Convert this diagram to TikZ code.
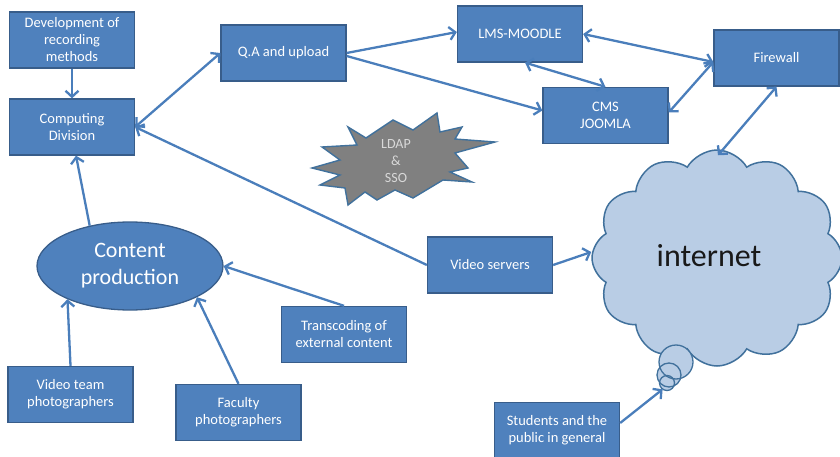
\documentclass[tikz,border=0pt]{standalone}
\usepackage{fontspec}
\setmainfont{Carlito}
\usetikzlibrary{arrows.meta,shapes.geometric,shapes.symbols}
\definecolor{boxfill}{HTML}{4F81BD}
\definecolor{boxline}{HTML}{385D8A}
\definecolor{arrowcol}{HTML}{4A7EBB}
\definecolor{cloudfill}{HTML}{B9CDE5}
\definecolor{cloudline}{HTML}{41719C}
\definecolor{stargray}{HTML}{808080}
\definecolor{startext}{HTML}{D9D9D9}
\tikzset{
  boxnode/.style={draw=boxline, fill=boxfill, line width=1.3pt, text=white,
    minimum width=125pt, minimum height=56pt, align=center, inner sep=2pt,
    font=\fontsize{14.5}{17}\selectfont},
  conn/.style={draw=arrowcol, line width=2.3pt, -{Straight Barb[length=6pt,width=13pt]}},
  biconn/.style={draw=arrowcol, line width=2.3pt, {Straight Barb[length=6pt,width=13pt]}-{Straight Barb[length=6pt,width=13pt]}},
  bubblefill/.style={circle, fill=cloudfill, inner sep=0pt},
  bubbleline/.style={draw=cloudline, line width=1.3pt},
}
\begin{document}
\begin{tikzpicture}[x=1pt,y=-1pt]
\useasboundingbox (0,0) rectangle (840,457);

% cloud
\node[cloud, cloud puffs=12, cloud puff arc=120, draw=cloudline, fill=cloudfill,
      line width=1.5pt, minimum width=250pt, minimum height=216pt] (cloud) at (717,258) {};
\node[font=\fontsize{32}{36}\selectfont, text=black!90] (inet) at (709,256) {internet};
\node[bubblefill, minimum size=34pt] (b1) at (676,362) {};
\node[bubblefill, minimum size=24pt] (b2) at (669,375) {};
\node[bubblefill, minimum size=15pt] (b3) at (667,383) {};
\draw[bubbleline] (b1.center) circle[radius=17pt];
\draw[bubbleline] (b2.center) circle[radius=12pt];
\draw[bubbleline] (b3.center) circle[radius=7.5pt];

% star
\draw[draw=cloudline, fill=stargray, line width=1.4pt, line join=miter]
  (312,168) -- (340,160) -- (322,147) -- (357,145) -- (348,127) -- (366,138)
  -- (393,120) -- (413,130) -- (437,113) -- (440,132) -- (462,127) -- (455,139)
  -- (495,142) -- (455,153) -- (468,168) -- (450,172) -- (472,182) -- (443,180)
  -- (413,198) -- (395,190) -- (377,200) -- (365,192) -- (348,205) -- (345,188)
  -- (320,185) -- (340,175) -- cycle;
\node[text=startext, align=center, font=\fontsize{14}{17}\selectfont] (ldap) at (396,161) {LDAP\\\&\\SSO};

% boxes
\node[boxnode] (dev) at (72,40) {Development of\\recording\\methods};
\node[boxnode] (comp) at (72,127) {Computing\\Division};
\node[boxnode] (qa) at (283.5,53) {Q.A and upload};
\node[boxnode] (lms) at (520,34) {LMS-MOODLE};
\node[boxnode] (cms) at (605.5,115.5) {CMS\\JOOMLA};
\node[boxnode] (fw) at (776.5,58) {Firewall};
\node[boxnode] (vs) at (490,265) {Video servers};
\node[boxnode] (trans) at (344,334.5) {Transcoding of\\external content};
\node[boxnode] (vt) at (70.5,394.5) {Video team\\photographers};
\node[boxnode] (fac) at (238.5,412.5) {Faculty\\photographers};
\node[boxnode, minimum height=55pt] (stu) at (557,430) {Students and the\\public in general};
\node[ellipse, draw=boxline, fill=boxfill, line width=1.3pt, text=white,
      minimum width=186pt, minimum height=88pt, align=center, inner sep=0pt,
      font=\fontsize{22}{27}\selectfont] (cp) at (130,266) {Content\\production};

% connectors
\draw[conn] (dev.south) -- (comp.north);
\draw[conn] (cp.135) -- ([xshift=4pt]comp.south);
\draw[biconn] (comp.east) -- (qa.west);
\draw[conn] (qa.east) -- ([yshift=2pt]lms.west);
\draw[conn] ([yshift=-3pt]qa.east) -- ([yshift=5pt]cms.west);
\draw[biconn] ([xshift=5pt]lms.south) -- (cms.north);
\draw[biconn] (lms.east) -- ([yshift=-4pt]fw.west);
\draw[biconn] ([yshift=3pt]cms.east) -- ([yshift=-4pt]fw.west);
\draw[biconn] (fw.south) -- ([xshift=1pt,yshift=-6pt]cloud.north);
\draw[conn] (vs.west) -- (comp.east);
\draw[conn] (vs.east) -- ([yshift=6pt]cloud.west);
\draw[conn] (vt.north) -- (cp.208);
\draw[conn] (fac.north) -- (cp.335);
\draw[conn] (trans.north) -- (cp.east);
\draw[conn] ([yshift=7pt]stu.east) -- (b3.235);
\end{tikzpicture}
\end{document}
